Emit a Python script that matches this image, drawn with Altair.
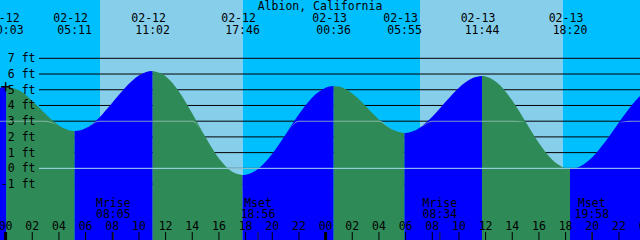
import altair as alt
import pandas as pd

# ---------------- data ----------------
title_text = "Albion, California"

# tide extremes (labels at top)
tide_dates = ["02-12", "02-12", "02-12", "02-12", "02-13", "02-13", "02-13", "02-13"]
tide_clock = ["00:03", "05:11", "11:02", "17:46", "00:36", "05:55", "11:44", "18:20"]
tide_hours = [0.05, 5.18, 11.03, 17.77, 24.60, 29.92, 35.73, 42.33]
tide_heights = [5.19, 2.37, 6.19, -0.43, 5.24, 2.25, 5.87, -0.03]

# water level (hours from 02-12 00:00, feet)
curve_hours = [-0.42, 0, 1, 2, 3, 4, 5, 6, 7, 8, 9, 10, 11, 12, 13, 14, 15, 16, 17,
               18, 19, 20, 21, 22, 23, 24, 25, 26, 27, 28, 29, 30, 31, 32, 33, 34,
               35, 36, 37, 38, 39, 40, 41, 42, 43, 44, 45, 46, 47, 47.58]
curve_heights = [5.13, 5.19, 4.96, 4.30, 3.45, 2.72, 2.38, 2.55, 3.21, 4.17, 5.16,
                 5.90, 6.19, 5.86, 4.89, 3.49, 1.97, 0.63, -0.22, -0.41, 0.01, 0.93,
                 2.16, 3.44, 4.51, 5.13, 5.20, 4.76, 3.97, 3.11, 2.47, 2.25, 2.55,
                 3.28, 4.23, 5.13, 5.73, 5.85, 5.35, 4.31, 2.96, 1.61, 0.54, 0.01,
                 0.09, 0.71, 1.72, 2.92, 4.06, 4.60]

# day / night bands
sky_start = [-0.42, 7.08, 17.78, 31.08, 41.78]
sky_end = [7.08, 17.78, 31.08, 41.78, 47.58]
sky_kind = ["night", "day", "night", "day", "night"]

# moon events
moon_names = ["Mrise", "Mset", "Mrise", "Mset"]
moon_clock = ["08:05", "18:56", "08:34", "19:58"]
moon_hours = [8.08, 18.93, 32.57, 43.97]

# depth lines and hour ticks
depth_levels = [-1, 0, 1, 2, 3, 4, 5, 6, 7]
tick_hours = [0, 2, 4, 6, 8, 10, 12, 14, 16, 18, 20, 22, 24, 26, 28, 30, 32, 34,
              36, 38, 40, 42, 44, 46, 48]
tick_labels = ["00", "02", "04", "06", "08", "10", "12", "14", "16", "18", "20", "22",
               "00", "02", "04", "06", "08", "10", "12", "14", "16", "18", "20", "22", "00"]
msl_level = 3.0
now_hour = 0.0
now_height = 5.19

# ---------------- build tables ----------------
X0, X1 = -0.42, 47.58
xs = alt.Scale(domain=[X0, X1], nice=False, zero=False)
ys = alt.Scale(domain=[-4.56, 10.71], nice=False, zero=False)
cs = alt.Scale(domain=["day", "night", "flood", "ebb"],
               range=["#87CEEB", "#00BFFF", "#0000FF", "#2E8B57"])
FONT = "DejaVu Sans Mono"
FS = 11.5

pts = sorted(list(zip(curve_hours, curve_heights)) + list(zip(tide_hours, tide_heights)))
bounds = [X0] + tide_hours + [X1]
rows = []
for i in range(len(bounds) - 1):
    a, b = bounds[i], bounds[i + 1]
    seg = [(t, h) for t, h in pts if a - 1e-9 <= t <= b + 1e-9]
    phase = "flood" if seg[-1][1] > seg[0][1] else "ebb"
    for t, h in seg:
        rows.append({"t": float(t), "h": float(h), "seg": f"s{i}", "phase": phase,
                     "floor": -4.56})
water = pd.DataFrame(rows)

sky = pd.DataFrame({"a": sky_start, "b": sky_end, "kind": sky_kind})
levels = pd.DataFrame({"h": depth_levels,
                       "lab": [f"{v} ft" for v in depth_levels]})
tides = pd.DataFrame({"t": tide_hours, "d": tide_dates, "c": tide_clock})
moons = pd.DataFrame({"t": moon_hours, "n": moon_names, "c": moon_clock})
ticks = pd.DataFrame({"t": tick_hours, "lab": tick_labels,
                      "w": [3 if l == "00" else 1 for l in tick_labels]})


def base_x(f):
    return alt.X(f, scale=xs, axis=None)


sky_layer = alt.Chart(sky).mark_rect().encode(
    x=base_x("a:Q"), x2="b:Q", y=alt.value(0), y2=alt.value(240),
    color=alt.Color("kind:N", legend=None, scale=cs))

depth_lines = alt.Chart(levels).mark_rule(color="black", strokeWidth=1).encode(
    x=alt.value(39), x2=alt.value(640), y=alt.Y("h:Q", scale=ys, axis=None))

water_layer = alt.Chart(water).mark_area(interpolate="monotone").encode(
    x=base_x("t:Q"),
    y=alt.Y("h:Q", scale=ys, axis=None),
    y2="floor:Q",
    color=alt.Color("phase:N", legend=None, scale=cs),
    detail="seg:N")

msl_layer = alt.Chart(water).transform_calculate(
    top=f"min(datum.h, {msl_level} + 0.03)", bot=f"min(datum.h, {msl_level} - 0.03)"
).mark_area(interpolate="monotone", color="#a8c4c0", opacity=0.75).encode(
    x=base_x("t:Q"), y=alt.Y("top:Q", scale=ys, axis=None), y2="bot:Q",
    detail="seg:N")

datum_line = alt.Chart(pd.DataFrame({"h": [0]})).mark_rule(color="#a6dcf0", strokeWidth=1).encode(
    x=alt.value(39), x2=alt.value(640), y=alt.Y("h:Q", scale=ys, axis=None))

txt = dict(font=FONT, fontSize=FS, color="black", baseline="alphabetic")

ylabels = alt.Chart(levels).mark_text(align="right", dy=4, **txt).encode(
    x=alt.value(35.5), y=alt.Y("h:Q", scale=ys, axis=None), text="lab:N")

title_layer = alt.Chart(pd.DataFrame({"s": [title_text]})).mark_text(align="center", **txt).encode(
    x=alt.value(320), y=alt.value(9.5), text="s:N")

tide_date_layer = alt.Chart(tides).mark_text(align="center", dx=-4, **txt).encode(
    x=base_x("t:Q"), y=alt.value(21.5), text="d:N")
tide_time_layer = alt.Chart(tides).mark_text(align="center", **txt).encode(
    x=base_x("t:Q"), y=alt.value(34), text="c:N")

moon_name_layer = alt.Chart(moons).mark_text(align="center", **txt).encode(
    x=base_x("t:Q"), y=alt.value(207), text="n:N")
moon_time_layer = alt.Chart(moons).mark_text(align="center", **txt).encode(
    x=base_x("t:Q"), y=alt.value(218), text="c:N")

hour_label_layer = alt.Chart(ticks).mark_text(align="center", **txt).encode(
    x=base_x("t:Q"), y=alt.value(230), text="lab:N")

tick_layer = alt.Chart(ticks).mark_rule(color="black").encode(
    x=base_x("t:Q"), y=alt.value(232), y2=alt.value(240),
    strokeWidth=alt.StrokeWidth("w:Q", scale=None, legend=None))

moon_tick_layer = alt.Chart(moons).mark_rule(color="#222222", strokeWidth=1).encode(
    x=base_x("t:Q"), y=alt.value(232), y2=alt.value(240))

now_layer = alt.Chart(pd.DataFrame({"t": [now_hour], "h": [now_height]})).mark_point(
    shape="M-1,0L1,0M0,-1L0,1", size=81, stroke="black", strokeWidth=1.5, filled=False, opacity=1
).encode(x=base_x("t:Q"), y=alt.Y("h:Q", scale=ys, axis=None))

chart = alt.layer(
    sky_layer, depth_lines, water_layer, msl_layer, datum_line,
    ylabels, title_layer, tide_date_layer, tide_time_layer,
    moon_name_layer, moon_time_layer, hour_label_layer, tick_layer, moon_tick_layer,
    now_layer,
).properties(
    width=640, height=240, padding=0,
    autosize=alt.AutoSizeParams(type="none"),
).configure_view(stroke=None)

chart.save("out.html", embed_options={"renderer": "svg", "actions": False})
